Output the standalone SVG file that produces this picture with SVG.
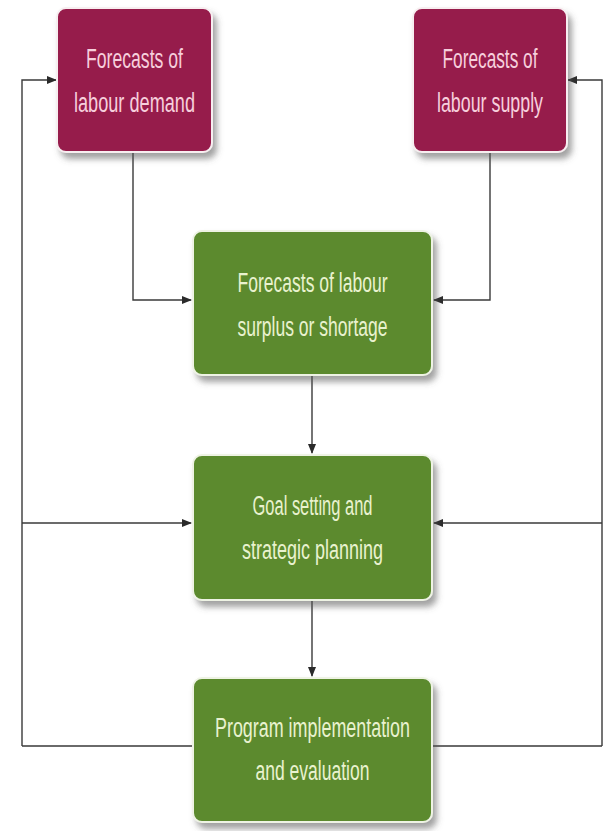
<svg xmlns="http://www.w3.org/2000/svg" width="607" height="831" viewBox="0 0 607 831">
<style>
.box-m{fill:#961b4c;stroke:#f7eef0;stroke-width:2}
.box-g{fill:#5b8a2f;stroke:#eef3e4;stroke-width:2}
.t{font-family:"Liberation Sans",Arial,sans-serif;font-size:27px;text-anchor:middle}
.tm{fill:#f6cfdc}
.tg{fill:#e9f2cf}
.c{fill:none;stroke:#3a3a3a;stroke-width:1.4}
</style>
<defs>
<filter id="sh" x="-10%" y="-10%" width="130%" height="140%">
<feDropShadow dx="4" dy="6" stdDeviation="3" flood-color="#555" flood-opacity="0.55"/>
</filter>
<marker id="ah" markerWidth="10" markerHeight="8" refX="9" refY="4" orient="auto" markerUnits="userSpaceOnUse">
<path d="M0,0 L10,4 L0,8 Z" fill="#2a2a2a"/>
</marker>
</defs>
<rect width="607" height="831" fill="#ffffff"/>
<g id="connectors">
<path class="c" d="M22,746 V80 H56" marker-end="url(#ah)"/>
<path class="c" d="M602,746 V80 H568" marker-end="url(#ah)"/>
<path class="c" d="M133,152 V300 H191" marker-end="url(#ah)"/>
<path class="c" d="M490,152 V300 H434" marker-end="url(#ah)"/>
<path class="c" d="M312,375 V453" marker-end="url(#ah)"/>
<path class="c" d="M22,523 H191" marker-end="url(#ah)"/>
<path class="c" d="M602,523 H434" marker-end="url(#ah)"/>
<path class="c" d="M312,600 V676" marker-end="url(#ah)"/>
<path class="c" d="M22,746 H193 M432,746 H602"/>
</g>
<g id="labour-demand">
<rect class="box-m" x="57" y="8" width="155" height="144" rx="9" filter="url(#sh)"/>
<text class="t tm" x="134.5" y="68" textLength="97" lengthAdjust="spacingAndGlyphs">Forecasts of</text>
<text class="t tm" x="134.5" y="112" textLength="121" lengthAdjust="spacingAndGlyphs">labour demand</text>
</g>
<g id="labour-supply">
<rect class="box-m" x="413" y="8" width="154" height="144" rx="9" filter="url(#sh)"/>
<text class="t tm" x="490" y="68" textLength="95" lengthAdjust="spacingAndGlyphs">Forecasts of</text>
<text class="t tm" x="490" y="112" textLength="106" lengthAdjust="spacingAndGlyphs">labour supply</text>
</g>
<g id="surplus-shortage">
<rect class="box-g" x="193" y="231" width="239" height="144" rx="9" filter="url(#sh)"/>
<text class="t tg" x="312.5" y="292" textLength="150" lengthAdjust="spacingAndGlyphs">Forecasts of labour</text>
<text class="t tg" x="312.5" y="336" textLength="150" lengthAdjust="spacingAndGlyphs">surplus or shortage</text>
</g>
<g id="goal-setting">
<rect class="box-g" x="193" y="455" width="239" height="145" rx="9" filter="url(#sh)"/>
<text class="t tg" x="312.5" y="515" textLength="120" lengthAdjust="spacingAndGlyphs">Goal setting and</text>
<text class="t tg" x="312.5" y="559" textLength="141" lengthAdjust="spacingAndGlyphs">strategic planning</text>
</g>
<g id="program">
<rect class="box-g" x="193" y="678" width="239" height="144" rx="9" filter="url(#sh)"/>
<text class="t tg" x="312.5" y="737" textLength="195" lengthAdjust="spacingAndGlyphs">Program implementation</text>
<text class="t tg" x="312.5" y="780" textLength="114" lengthAdjust="spacingAndGlyphs">and evaluation</text>
</g>
</svg>
